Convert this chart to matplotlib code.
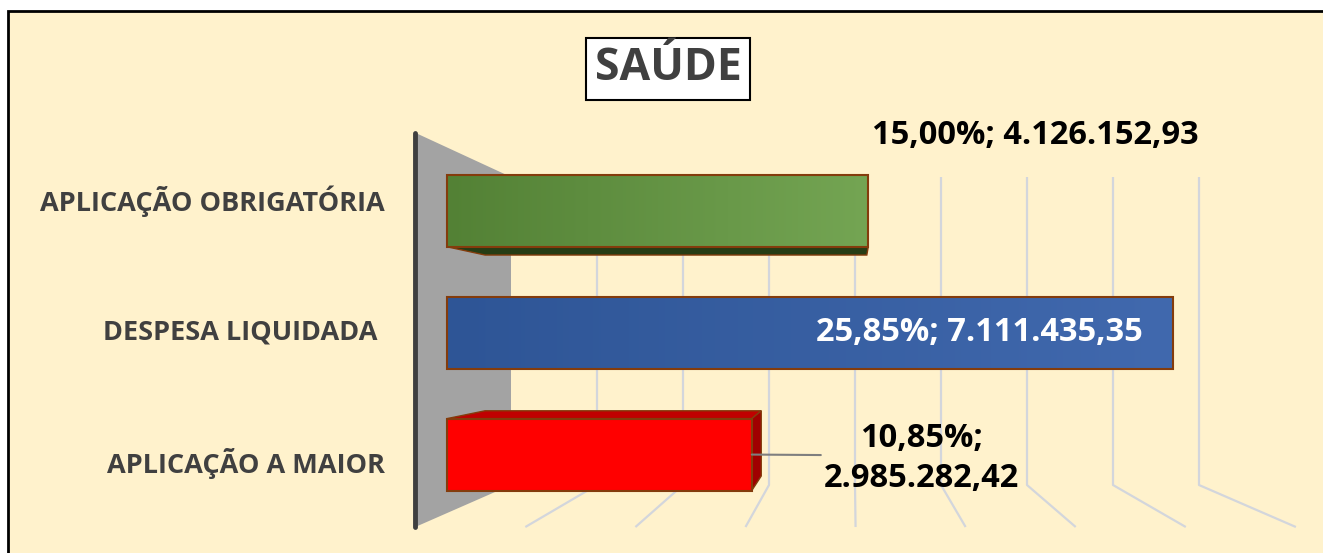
import numpy as np
import matplotlib.pyplot as plt
from matplotlib.colors import to_rgb
from matplotlib.patches import Polygon, Rectangle

# data
categories = ["APLICAÇÃO OBRIGATÓRIA", "DESPESA LIQUIDADA ", "APLICAÇÃO A MAIOR"]
values = [4126152.93, 7111435.35, 2985282.42]
percents = [15.00, 25.85, 10.85]
title = "SAÚDE"
grid_steps = [1, 2, 3, 4, 5, 6, 7, 8]  # millions

face_left = ["#538135", "#2E5596", "#FF0000"]
face_right = ["#74A553", "#4169AE", "#FF0000"]
top_faces = ["#263D15", "#1F3864", "#C00000"]
side_faces = ["#263D15", "#1F3864", "#A00000"]

plt.rcParams['font.family'] = ['Open Sans', 'DejaVu Sans']

W, H = 1323, 553
fig = plt.figure(figsize=(W / 100, H / 100), dpi=100, facecolor="white")

# chart area frame (right and bottom edges run off the picture)
fig.patches.append(Rectangle((8 / W, -0.05), 1.05, 1.05 - 11 / H, transform=fig.transFigure,
                             facecolor="#FFF2CC", edgecolor="black", linewidth=2, zorder=-1))

# axes over whole figure: x in millions on back wall, y in category units (0 = top)
ax = fig.add_axes([0, 0, 1, 1])
ax.set_facecolor("none")
PX_M, X0, Y0, BAND = 86.0, 511.0, 177.0, 102.67
ax.set_xlim(-X0 / PX_M, (W - X0) / PX_M)
ax.set_ylim((H - Y0) / BAND, -Y0 / BAND)
ax.axis("off")

XC, YC = (853 - X0) / PX_M, (335 - Y0) / BAND
DEPTH = 0.28


def proj(x, y, d):
    s = 1 + DEPTH * d
    return XC + (x - XC) * s, YC + (y - YC) * s


n = len(categories)
grid_col = "#D3D6DC"
for g in grid_steps:
    xs, ys = zip(proj(g, 0, 0), proj(g, n, 0), proj(g, n, 1))
    ax.plot(xs, ys, color=grid_col, lw=1.6, zorder=1, solid_capstyle="butt")

# side wall
wall = [proj(0, 0, 0), proj(0, n, 0), proj(0, n, 1), proj(0, 0, 1)]
ax.add_patch(Polygon(wall, closed=True, facecolor="#A3A3A3", edgecolor="none", zorder=2))
ax.plot(*zip(proj(0, 0, 1), proj(0, n, 1)), color="#3F3F3F", lw=3.5, zorder=3,
        solid_capstyle="round")

DF, DB = 0.668, 0.271
half = 0.295
edge = "#843C0C"


def fmt_br(v):
    s = f"{v:,.2f}"
    return s.replace(",", "X").replace(".", ",").replace("X", ".")


for i, (v, p) in enumerate(zip(values, percents)):
    v = v / 1e6
    y0, y1 = i + 0.52 - half, i + 0.52 + half
    # hidden faces drawn first
    if y1 < YC:  # underside visible
        pts = [proj(0, y1, DF), proj(v, y1, DF), proj(v, y1, DB), proj(0, y1, DB)]
        ax.add_patch(Polygon(pts, facecolor=top_faces[i], edgecolor=edge, lw=1, zorder=4))
    if y0 > YC:  # top visible
        pts = [proj(0, y0, DF), proj(v, y0, DF), proj(v, y0, DB), proj(0, y0, DB)]
        ax.add_patch(Polygon(pts, facecolor=top_faces[i], edgecolor=edge, lw=1, zorder=4))
    if v < XC:  # right side visible
        pts = [proj(v, y0, DF), proj(v, y1, DF), proj(v, y1, DB), proj(v, y0, DB)]
        ax.add_patch(Polygon(pts, facecolor=side_faces[i], edgecolor=edge, lw=1, zorder=4))
    # front face with gradient
    fx0, fy0 = proj(0, y0, DF)
    fx1, fy1 = proj(v, y1, DF)
    c0 = np.array(to_rgb(face_left[i]))
    c1 = np.array(to_rgb(face_right[i]))
    t = np.linspace(0, 1, 256)[None, :, None]
    grad = c0 + (c1 - c0) * t
    rect = Rectangle((fx0, fy0), fx1 - fx0, fy1 - fy0, facecolor="none", edgecolor=edge,
                     lw=1.5, zorder=6)
    ax.add_patch(rect)
    im = ax.imshow(grad, extent=(fx0, fx1, fy1, fy0), aspect="auto", zorder=5,
                   interpolation="bilinear")
    im.set_clip_path(rect)

    label = f"{p:.2f}".replace(".", ",") + "%; " + fmt_br(v * 1e6)
    ymid = (y0 + y1) / 2
    if i == 0:
        lx, ly = proj(v, y0, DF)
        ax.annotate(label, (lx, ly), xytext=(3, 28), textcoords="offset points",
                    ha="left", va="center", fontsize=23.5, fontweight="bold", color="black",
                    zorder=8)
    elif i == 1:
        lx, ly = proj(v, ymid, DF)
        ax.annotate(label, (lx, ly), xytext=(-22, 0), textcoords="offset points",
                    ha="right", va="center", fontsize=23.5, fontweight="bold", color="white",
                    zorder=8)
    else:
        lx, ly = proj(v, ymid, DF)
        ax.annotate(label.replace("; ", ";\n"), (lx, ly), xytext=(122, -3),
                    textcoords="offset points", ha="center", va="center", fontsize=23.5,
                    fontweight="bold", color="black", linespacing=1.3, zorder=8,
                    arrowprops=dict(arrowstyle="-", color="#7F7F7F", lw=1.5,
                                    shrinkA=0, shrinkB=0, relpos=(0.0, 0.55)))

    # category label
    cx, cy = proj(0, ymid, 1)
    ax.annotate(categories[i], (cx, cy), xytext=(-22, 0), textcoords="offset points",
                ha="right", va="center", fontsize=19.5, fontweight="bold", color="#404040")

fig.text(668 / W, 1 - 69 / H, title, ha="center", va="center", fontsize=32,
         fontweight="bold", color="#404040",
         bbox=dict(boxstyle="square,pad=0.2", facecolor="white", edgecolor="black", lw=1.5))

fig.savefig("out.png", dpi=100, facecolor=fig.get_facecolor())
